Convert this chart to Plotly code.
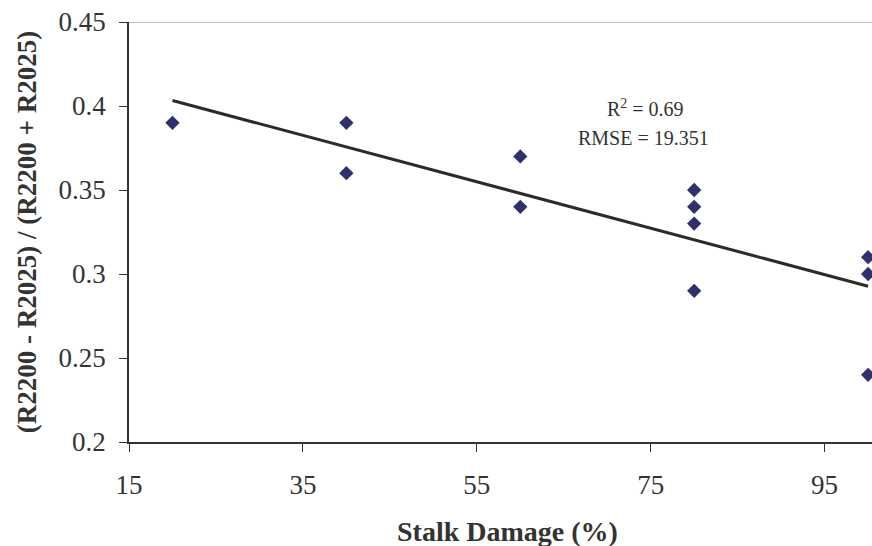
import numpy as np
import plotly.graph_objects as go

stalk_damage = [20, 40, 40, 60, 60, 80, 80, 80, 80, 100, 100, 100]
ratio = [0.39, 0.39, 0.36, 0.37, 0.34, 0.35, 0.34, 0.33, 0.29, 0.31, 0.30, 0.24]
x_ticks = [15, 35, 55, 75, 95]
y_ticks = [0.2, 0.25, 0.3, 0.35, 0.4, 0.45]
y_tick_labels = ["0.2", "0.25", "0.3", "0.35", "0.4", "0.45"]

slope, intercept = np.polyfit(stalk_damage, ratio, 1)
fit_x = [min(stalk_damage), max(stalk_damage)]
fit_y = [slope * v + intercept for v in fit_x]

FONT = "Liberation Serif"
L, R, T, B = 129, 0, 22, 104
PW = 872 - L - R
PH = 546 - T - B

fig = go.Figure()
fig.add_trace(go.Scatter(x=fit_x, y=fit_y, mode="lines",
                         line=dict(color="#2b2b2b", width=3), showlegend=False, cliponaxis=False))
fig.add_trace(go.Scatter(x=stalk_damage, y=ratio, mode="markers",
                         marker=dict(symbol="diamond", size=11, color="#30306a"),
                         showlegend=False, cliponaxis=False))

fig.add_annotation(x=(645 - L) / PW, y=0.3988, xref="paper", yref="y", showarrow=False,
                   xanchor="center", yanchor="middle",
                   text="R<sup>2</sup> = 0.69", font=dict(family=FONT, size=20, color="#333"))
fig.add_annotation(x=(643 - L) / PW, y=0.381, xref="paper", yref="y", showarrow=False,
                   xanchor="center", yanchor="middle",
                   text="RMSE = 19.351", font=dict(family=FONT, size=20, color="#333"))
# x-axis title (placed slightly right of plot centre, as in the reference)
fig.add_annotation(x=(507 - L) / PW, y=(T + PH - 514) / PH, xref="paper", yref="paper",
                   showarrow=False, xanchor="center", yanchor="top",
                   text="<b>Stalk Damage (%)</b>", font=dict(family=FONT, size=28, color="#333"))

fig.add_shape(type="line", xref="paper", yref="y", x0=0, x1=1, y0=0.45, y1=0.45,
              line=dict(color="#888888", width=1))

fig.update_layout(
    width=872, height=546,
    margin=dict(l=L, r=R, t=T, b=B),
    paper_bgcolor="white", plot_bgcolor="white",
    font=dict(family=FONT, color="#333"),
    xaxis=dict(range=[15, 100.45], tickvals=x_ticks, showgrid=False, zeroline=False,
               showline=True, linecolor="#333", linewidth=1.5,
               ticks="outside", ticklen=8, tickcolor="#333", ticklabelstandoff=10,
               tickfont=dict(family=FONT, size=27, color="#333")),
    yaxis=dict(range=[0.2, 0.45], tickvals=y_ticks, ticktext=y_tick_labels,
               showgrid=False, zeroline=False,
               showline=True, linecolor="#333", linewidth=1.5,
               ticks="outside", ticklen=8, tickcolor="#333", ticklabelstandoff=8,
               tickfont=dict(family=FONT, size=27, color="#333"),
               title=dict(text="<b>(R2200 - R2025) / (R2200 + R2025)</b>", standoff=14,
                          font=dict(family=FONT, size=27, color="#333"))),
)

fig.write_html("out.html")
